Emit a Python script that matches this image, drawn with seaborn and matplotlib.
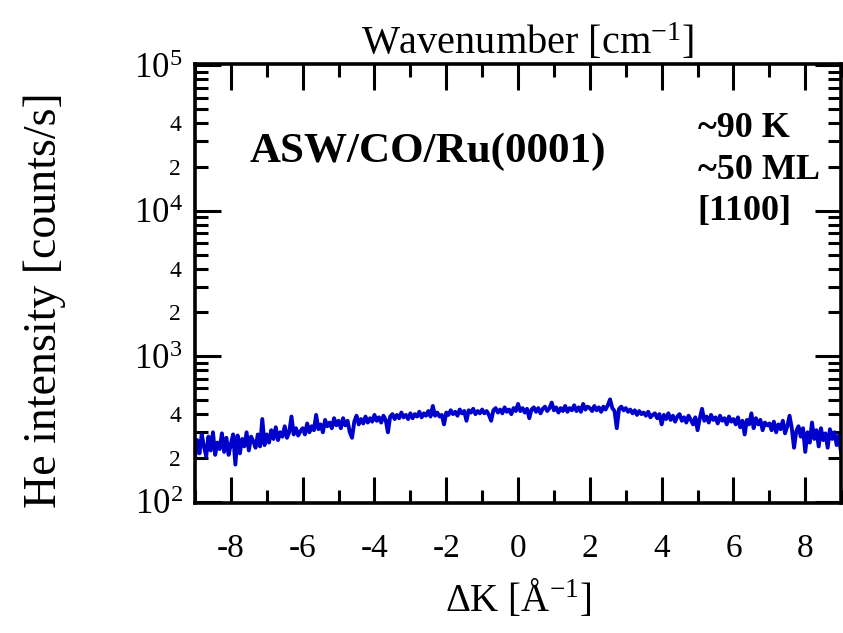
import numpy as np
import pandas as pd
import matplotlib
matplotlib.use("Agg")
import matplotlib.pyplot as plt
import seaborn as sns
from matplotlib.ticker import LogLocator, MultipleLocator, FuncFormatter

# Helium atom scattering scan: parallel momentum transfer grid and measured counts
dk_range = (-9.0, 9.0)
intensity = [
    # -9 .. -8
    200, 265, 215, 290, 240, 205, 280, 225, 300, 210, 255, 230, 295, 220, 275, 210,
    # -8 .. -7
    250, 290, 180, 285, 215, 270, 240, 300, 225, 280, 260, 235, 290, 240, 370, 245,
    # -7 .. -6
    290, 255, 310, 270, 325, 265, 300, 280, 330, 275, 300, 385, 290, 320, 285, 305,
    # -6 .. -5
    320, 290, 345, 300, 330, 310, 395, 315, 340, 300, 365, 330, 350, 320, 375, 335,
    # -5 .. -4
    360, 320, 375, 335, 360, 300, 275, 355, 390, 340, 370, 345, 385, 350, 375, 355,
    # -4 .. -3
    395, 360, 380, 350, 390, 365, 300, 385, 400, 370, 395, 375, 410, 380, 395, 370,
    # -3 .. -2
    405, 375, 400, 385, 415, 380, 405, 390, 420, 385, 455, 390, 410, 385, 395, 340,
    # -2 .. -1
    410, 395, 425, 400, 415, 390, 430, 405, 420, 360, 425, 410, 435, 400, 420, 405,
    # -1 .. 0
    430, 405, 420, 395, 360, 425, 440, 410, 430, 405, 445, 415, 430, 400, 440, 420,
    # 0 .. 1
    470, 420, 440, 410, 435, 375, 430, 445, 415, 440, 405, 435, 450, 420, 440, 480,
    # 1 .. 2
    425, 445, 410, 440, 420, 455, 415, 440, 425, 460, 420, 445, 415, 470, 430, 450,
    # 2 .. 3
    440, 420, 455, 425, 445, 415, 450, 430, 460, 505, 440, 420, 320, 435, 450, 425,
    # 3 .. 4
    440, 415, 430, 405, 425, 395, 420, 400, 410, 390, 415, 380, 395, 405, 375, 400,
    # 4 .. 5
    340, 395, 370, 405, 365, 390, 355, 385, 400, 360, 380, 350, 390, 365, 340, 380,
    # 5 .. 6
    310, 375, 435, 360, 385, 350, 395, 365, 380, 345, 390, 360, 375, 340, 385, 355,
    # 6 .. 7
    370, 340, 380, 325, 360, 290, 365, 340, 405, 320, 375, 340, 365, 310, 350, 335,
    # 7 .. 8
    345, 310, 355, 300, 340, 315, 360, 295, 330, 390, 320, 235, 305, 330, 280, 320,
    # 8 .. 9
    220, 300, 255, 350, 270, 310, 240, 320, 265, 295, 235, 315, 270, 300, 245, 285,
    215,
]
dk = np.linspace(dk_range[0], dk_range[1], len(intensity))
scan = pd.DataFrame({"dK": dk, "counts": intensity})

x_ticks = [-8, -6, -4, -2, 0, 2, 4, 6, 8]
sample_label = "ASW/CO/Ru(0001)"
conditions = ["~90 K", "~50 ML", "[1100]"]

sns.set_style("ticks")
plt.rcParams["font.family"] = ["Liberation Serif", "DejaVu Serif"]
plt.rcParams["mathtext.fontset"] = "custom"
plt.rcParams["mathtext.rm"] = "Liberation Serif"
plt.rcParams["mathtext.it"] = "Liberation Serif:italic"
plt.rcParams["mathtext.bf"] = "Liberation Serif:bold"
for key in ("text.color", "axes.labelcolor", "xtick.color", "ytick.color",
            "xtick.labelcolor", "ytick.labelcolor"):
    plt.rcParams[key] = "black"

fig = plt.figure(figsize=(8.43, 6.33), dpi=100)
ax = fig.add_axes([0.2313, 0.2054, 0.7665, 0.6935])

sns.lineplot(data=scan, x="dK", y="counts", ax=ax, color="#0000cc",
             linewidth=2.8, estimator=None, legend=False)

ax.set_yscale("log")
ax.set_xlim(*dk_range)
ax.set_ylim(98, 1.02e5)

ax.set_xticks(x_ticks)
ax.set_xticklabels([str(t) for t in x_ticks])
ax.xaxis.set_minor_locator(MultipleLocator(1))
ax.yaxis.set_major_locator(LogLocator(base=10, numticks=10))
ax.yaxis.set_minor_locator(LogLocator(base=10, subs=range(2, 10), numticks=20))


def decade_label(v, pos):
    return "10$^{%d}$" % int(round(np.log10(v)))


def minor_label(v, pos):
    mant = v / 10 ** np.floor(np.log10(v) + 1e-9)
    m = int(round(mant))
    return str(m) if m in (2, 4) else ""


ax.yaxis.set_major_formatter(FuncFormatter(decade_label))
ax.yaxis.set_minor_formatter(FuncFormatter(minor_label))

for side in ax.spines.values():
    side.set_linewidth(2.6)
    side.set_color("black")

ax.tick_params(which="both", direction="in", top=True, right=True, color="black")
ax.tick_params(which="major", length=19, width=2.2, labelsize=25, pad=9)
ax.tick_params(which="minor", length=9.5, width=2.2, labelsize=17, pad=10)
ax.tick_params(axis="x", which="major", labelsize=24)
ax.tick_params(axis="x", which="both", pad=22)

ax.set_xlabel(r"$\Delta$K [Å$^{-1}$]", fontsize=28, labelpad=10)
ax.set_ylabel("He intensity [counts/s]", fontsize=33)
ax.yaxis.set_label_coords(-0.2, 0.462)
ax.set_title(r"Wavenumber [cm$^{-1}$]", fontsize=29, pad=7, x=0.515)

ax.text(0.085, 0.80, sample_label, transform=ax.transAxes, fontsize=31,
        fontweight="bold", ha="left", va="center")
ax.text(0.778, 0.89, "\n".join(conditions), transform=ax.transAxes,
        fontsize=26, fontweight="bold", ha="left", va="top", linespacing=1.33)

fig.savefig("out.png", dpi=100)
